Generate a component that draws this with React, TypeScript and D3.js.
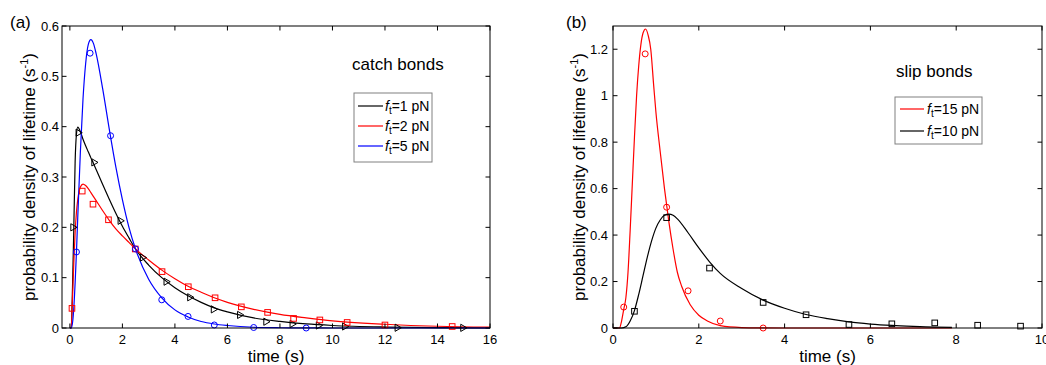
import React from "react";
import * as d3 from "d3";

// ---------- Panel (a): catch bonds ----------
const fitTimeA = [0, 0.05, 0.1, 0.15, 0.2, 0.25, 0.3, 0.4, 0.5, 0.6, 0.7, 0.8, 0.9, 1.0, 1.25, 1.5, 1.75, 2.0, 2.25, 2.5, 3.0, 3.5, 4.0, 4.5, 5.0, 5.5, 6.0, 7.0, 8.0, 9.0, 10, 12, 14, 16];
const fitF1 = [0, 0, 0.08, 0.2, 0.33, 0.385, 0.399, 0.39, 0.375, 0.362, 0.35, 0.338, 0.327, 0.315, 0.285, 0.256, 0.228, 0.202, 0.179, 0.157, 0.125, 0.1, 0.08, 0.064, 0.051, 0.04, 0.032, 0.02, 0.013, 0.008, 0.005, 0.002, 0.0008, 0.0003];
const fitF2 = [0, 0, 0.06, 0.13, 0.19, 0.23, 0.255, 0.28, 0.286, 0.283, 0.277, 0.269, 0.261, 0.253, 0.233, 0.214, 0.197, 0.183, 0.17, 0.157, 0.135, 0.115, 0.098, 0.083, 0.071, 0.06, 0.051, 0.037, 0.027, 0.02, 0.014, 0.0075, 0.0035, 0.0018];
const fitF5 = [0, 0, 0.01, 0.04, 0.09, 0.15, 0.22, 0.35, 0.455, 0.525, 0.563, 0.573, 0.565, 0.545, 0.475, 0.395, 0.32, 0.255, 0.2, 0.157, 0.097, 0.06, 0.036, 0.022, 0.013, 0.008, 0.005, 0.0015, 0.0005, 0.0002, 0, 0, 0, 0];

const dataTimeF1 = [0.15, 0.35, 0.95, 1.95, 2.8, 3.7, 4.6, 5.5, 6.5, 7.5, 8.5, 9.5, 10.5, 12.5, 15];
const dataF1 = [0.2, 0.388, 0.329, 0.213, 0.14, 0.092, 0.061, 0.037, 0.026, 0.0125, 0.008, 0.005, 0.003, 0.0005, 0.0003];
const dataTimeF2 = [0.08, 0.47, 0.88, 1.47, 2.49, 3.51, 4.51, 5.53, 6.53, 7.53, 8.52, 9.52, 10.56, 12.0, 14.56];
const dataF2 = [0.039, 0.272, 0.246, 0.215, 0.157, 0.112, 0.082, 0.06, 0.042, 0.031, 0.019, 0.016, 0.011, 0.006, 0.003];
const dataTimeF5 = [0.25, 0.77, 1.55, 2.5, 3.5, 4.5, 5.5, 7.0, 9.0];
const dataF5 = [0.151, 0.546, 0.382, 0.157, 0.056, 0.023, 0.006, 0.001, 0.0];

const xTicksA = [0, 2, 4, 6, 8, 10, 12, 14, 16];
const xTickLabelsA = ["0", "2", "4", "6", "8", "10", "12", "14", "16"];
const yTicksA = [0, 0.1, 0.2, 0.3, 0.4, 0.5, 0.6];
const yTickLabelsA = ["0", "0.1", "0.2", "0.3", "0.4", "0.5", "0.6"];

// ---------- Panel (b): slip bonds ----------
const fitTimeF15 = [0, 0.15, 0.2, 0.25, 0.3, 0.35, 0.4, 0.45, 0.5, 0.55, 0.6, 0.65, 0.7, 0.76, 0.82, 0.88, 0.95, 1.0, 1.1, 1.2, 1.3, 1.4, 1.5, 1.6, 1.8, 2.0, 2.2, 2.5, 3.0, 3.5, 4.0, 7.9];
const fitF15 = [0, 0, 0.03, 0.08, 0.13, 0.24, 0.42, 0.62, 0.82, 1.0, 1.13, 1.22, 1.27, 1.287, 1.26, 1.2, 1.04, 0.93, 0.76, 0.6, 0.46, 0.34, 0.24, 0.18, 0.1, 0.055, 0.03, 0.01, 0.002, 0.0005, 0, 0];
const fitTimeF10 = [0, 0.2, 0.3, 0.4, 0.5, 0.6, 0.7, 0.8, 0.9, 1.0, 1.1, 1.2, 1.3, 1.4, 1.5, 1.75, 2.0, 2.25, 2.5, 3.0, 3.5, 4.0, 4.5, 5.0, 5.5, 6.0, 6.5, 7.0, 7.5, 7.9];
const fitF10 = [0, 0, 0.005, 0.03, 0.075, 0.145, 0.225, 0.305, 0.375, 0.43, 0.465, 0.485, 0.49, 0.485, 0.47, 0.41, 0.345, 0.285, 0.235, 0.17, 0.12, 0.085, 0.058, 0.04, 0.026, 0.017, 0.011, 0.007, 0.004, 0.003];

const dataTimeF15 = [0.25, 0.75, 1.25, 1.75, 2.5, 3.5];
const dataF15 = [0.09, 1.18, 0.52, 0.16, 0.03, 0.0];
const dataTimeF10 = [0.5, 1.25, 2.25, 3.5, 4.5, 5.5, 6.5, 7.5, 8.5, 9.5];
const dataF10 = [0.072, 0.475, 0.258, 0.11, 0.057, 0.015, 0.018, 0.022, 0.012, 0.008];

const xTicksB = [0, 2, 4, 6, 8, 10];
const xTickLabelsB = ["0", "2", "4", "6", "8", "10"];
const yTicksB = [0, 0.2, 0.4, 0.6, 0.8, 1, 1.2];
const yTickLabelsB = ["0", "0.2", "0.4", "0.6", "0.8", "1", "1.2"];

const FONT = "'Liberation Sans', Arial, Helvetica, sans-serif";

type Marker = "tri" | "square" | "circle";

interface Series {
  label: string; // number shown after f_t=
  color: string;
  fitX: number[];
  fitY: number[];
  ptX: number[];
  ptY: number[];
  marker: Marker;
}

interface PanelProps {
  tag: string;
  title: string;
  left: number;
  right: number;
  top: number;
  bottom: number;
  xDomain: [number, number];
  yDomain: [number, number];
  xTicks: number[];
  xTickLabels: string[];
  yTicks: number[];
  yTickLabels: string[];
  yLabelGap: number;
  yTitleX: number;
  tagX: number;
  titleX: number;
  titleY: number;
  legend: { x: number; y: number; w: number; h: number; lineX0: number; lineX1: number; textX: number; rowY: number[] };
  series: Series[];
}

function MarkerShape({ kind, cx, cy, color }: { kind: Marker; cx: number; cy: number; color: string }) {
  if (kind === "circle") {
    return <circle cx={cx} cy={cy} r={3} fill="none" stroke={color} strokeWidth={1} />;
  }
  if (kind === "square") {
    return <rect x={cx - 2.8} y={cy - 2.8} width={5.6} height={5.6} fill="none" stroke={color} strokeWidth={1} />;
  }
  const p = `M${cx - 3},${cy - 3.6}L${cx + 3.2},${cy}L${cx - 3},${cy + 3.6}Z`;
  return <path d={p} fill="none" stroke={color} strokeWidth={1} />;
}

function Panel(p: PanelProps) {
  const x = d3.scaleLinear().domain(p.xDomain).range([p.left, p.right]);
  const y = d3.scaleLinear().domain(p.yDomain).range([p.bottom, p.top]);
  const line = d3
    .line<[number, number]>()
    .x((d) => x(d[0]))
    .y((d) => y(d[1]))
    .curve(d3.curveMonotoneX);
  const tickLen = 4.5;
  const midY = (p.top + p.bottom) / 2;
  const midX = (p.left + p.right) / 2;

  return (
    <g fontFamily={FONT} fill="#000">
      {/* curves */}
      {p.series.map((s) => (
        <path
          key={"fit" + s.label}
          d={line(s.fitX.map((t, i) => [t, s.fitY[i]] as [number, number])) || ""}
          fill="none"
          stroke={s.color}
          strokeWidth={1.2}
        />
      ))}
      {/* data points */}
      {p.series.map((s) =>
        s.ptX.map((t, i) => (
          <MarkerShape key={s.label + "-" + i} kind={s.marker} cx={x(t)} cy={y(s.ptY[i])} color={s.color} />
        ))
      )}
      {/* axes box */}
      <rect x={p.left} y={p.top} width={p.right - p.left} height={p.bottom - p.top} fill="none" stroke="#000" strokeWidth={1} />
      {p.xTicks.map((t) => (
        <g key={"xt" + t}>
          <line x1={x(t)} x2={x(t)} y1={p.bottom} y2={p.bottom - tickLen} stroke="#000" />
          <line x1={x(t)} x2={x(t)} y1={p.top} y2={p.top + tickLen} stroke="#000" />
        </g>
      ))}
      {p.yTicks.map((t) => (
        <g key={"yt" + t}>
          <line x1={p.left} x2={p.left + tickLen} y1={y(t)} y2={y(t)} stroke="#000" />
          <line x1={p.right} x2={p.right - tickLen} y1={y(t)} y2={y(t)} stroke="#000" />
        </g>
      ))}
      {p.xTicks.map((t, i) => (
        <text key={"xl" + t} x={x(t)} y={p.bottom + 16} fontSize={13} textAnchor="middle">
          {p.xTickLabels[i]}
        </text>
      ))}
      {p.yTicks.map((t, i) => (
        <text key={"yl" + t} x={p.left - p.yLabelGap} y={y(t) + 4.6} fontSize={13} textAnchor="end">
          {p.yTickLabels[i]}
        </text>
      ))}
      {/* axis titles */}
      <text x={midX} y={p.bottom + 34} fontSize={17} textAnchor="middle">
        time (s)
      </text>
      <text transform={`translate(${p.yTitleX},${midY}) rotate(-90)`} fontSize={17} textAnchor="middle">
        probability density of lifetime (s
        <tspan fontSize={11} dy={-7}>-1</tspan>
        <tspan dy={7}>)</tspan>
      </text>
      <text x={p.tagX} y={28} fontSize={17}>
        {p.tag}
      </text>
      <text x={p.titleX} y={p.titleY} fontSize={17}>
        {p.title}
      </text>
      {/* legend */}
      <rect x={p.legend.x} y={p.legend.y} width={p.legend.w} height={p.legend.h} fill="#fff" stroke="#808080" strokeWidth={1} />
      {p.series.map((s, i) => (
        <g key={"lg" + s.label}>
          <line x1={p.legend.lineX0} x2={p.legend.lineX1} y1={p.legend.rowY[i]} y2={p.legend.rowY[i]} stroke={s.color} strokeWidth={1.2} />
          <text x={p.legend.textX} y={p.legend.rowY[i] + 5} fontSize={14}>
            <tspan fontStyle="italic">f</tspan>
            <tspan fontSize={10} dy={3}>t</tspan>
            <tspan dy={-3}>={s.label} pN</tspan>
          </text>
        </g>
      ))}
    </g>
  );
}

export default function App() {
  const seriesA: Series[] = [
    { label: "1", color: "#000000", fitX: fitTimeA, fitY: fitF1, ptX: dataTimeF1, ptY: dataF1, marker: "tri" },
    { label: "2", color: "#ff0000", fitX: fitTimeA, fitY: fitF2, ptX: dataTimeF2, ptY: dataF2, marker: "square" },
    { label: "5", color: "#0000ff", fitX: fitTimeA, fitY: fitF5, ptX: dataTimeF5, ptY: dataF5, marker: "circle" },
  ];
  const seriesB: Series[] = [
    { label: "15", color: "#ff0000", fitX: fitTimeF15, fitY: fitF15, ptX: dataTimeF15, ptY: dataF15, marker: "circle" },
    { label: "10", color: "#000000", fitX: fitTimeF10, fitY: fitF10, ptX: dataTimeF10, ptY: dataF10, marker: "square" },
  ];
  // draw the 10 pN curve beneath the 15 pN curve, legend order kept
  const seriesBDraw = seriesB;

  return (
    <svg
      width={1046}
      height={365}
      style={{ position: "absolute", left: 0, top: 0, background: "#fff" }}
    >
      <rect width={1046} height={365} fill="#fff" />
      <Panel
        tag="(a)"
        title="catch bonds"
        left={62}
        right={490}
        top={26}
        bottom={328}
        xDomain={[-0.3, 16]}
        yDomain={[0, 0.6]}
        xTicks={xTicksA}
        xTickLabels={xTickLabelsA}
        yTicks={yTicksA}
        yTickLabels={yTickLabelsA}
        yLabelGap={3}
        yTitleX={35}
        tagX={10}
        titleX={352}
        titleY={70}
        legend={{ x: 354, y: 93, w: 78, h: 69, lineX0: 358, lineX1: 383, textX: 385, rowY: [106, 126, 146] }}
        series={seriesA}
      />
      <Panel
        tag="(b)"
        title="slip bonds"
        left={613}
        right={1042}
        top={26}
        bottom={328}
        xDomain={[0, 10]}
        yDomain={[0, 1.3]}
        xTicks={xTicksB}
        xTickLabels={xTickLabelsB}
        yTicks={yTicksB}
        yTickLabels={yTickLabelsB}
        yLabelGap={5}
        yTitleX={585}
        tagX={566}
        titleX={896}
        titleY={77}
        legend={{ x: 895, y: 97, w: 87, h: 47, lineX0: 900, lineX1: 924, textX: 927, rowY: [109, 131] }}
        series={seriesBDraw}
      />
    </svg>
  );
}
